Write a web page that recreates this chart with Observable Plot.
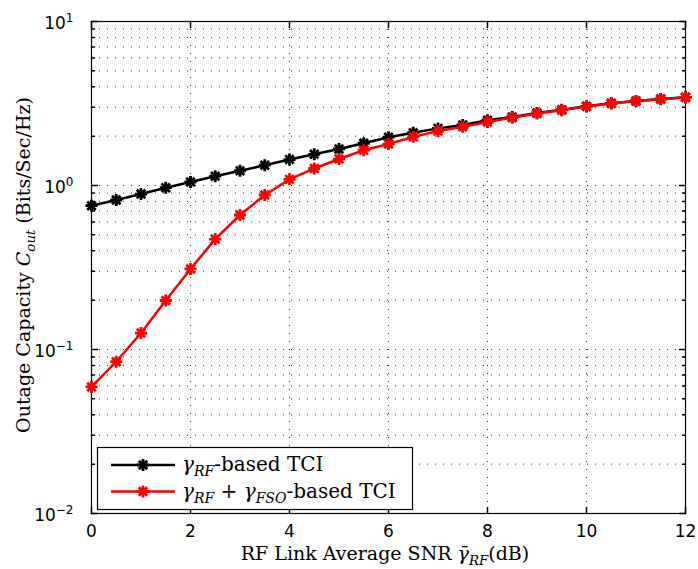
<!DOCTYPE html>
<html><head><meta charset="utf-8">
<script src="https://cdn.jsdelivr.net/npm/d3@7"></script>
<script src="https://cdn.jsdelivr.net/npm/@observablehq/plot@0.6"></script>
<style>body{margin:0;background:#fff}#chart{width:698px;height:569px}</style>
</head><body><div id="chart"></div>
<script>
// ---- data ----
const snr = [0,0.5,1,1.5,2,2.5,3,3.5,4,4.5,5,5.5,6,6.5,7,7.5,8,8.5,9,9.5,10,10.5,11,11.5,12];
const capacityRF = [0.753,0.816,0.887,0.97,1.05,1.14,1.23,1.33,1.44,1.55,1.67,1.81,1.97,2.10,2.23,2.34,2.50,2.62,2.77,2.90,3.04,3.17,3.28,3.37,3.45];
const capacityRFFSO = [0.0591,0.0843,0.126,0.199,0.310,0.471,0.661,0.875,1.09,1.27,1.45,1.64,1.79,1.98,2.15,2.28,2.44,2.59,2.75,2.88,3.03,3.16,3.28,3.36,3.44];
const seriesColors = ["#000000", "#ff0000"];
const xTicks = [0,2,4,6,8,10,12];
const yTicks = [0.01,0.1,1,10];
const yTickExponents = ["\u22122","\u22121","0","1"];
const xGrid = [2,4,6,8,10];
const yMinor = d3.range(-2,1).flatMap(e => d3.range(2,10).map(m => m * 10 ** e));
const yGrid = yMinor.concat([0.1, 1]);

const rf = snr.map((x,i) => ({x, y: capacityRF[i]}));
const fso = snr.map((x,i) => ({x, y: capacityRFFSO[i]}));

// Matlab '*' marker
const star = {draw(ctx, size){
  const r = Math.sqrt(size/Math.PI), d = r*Math.SQRT1_2;
  ctx.moveTo(-r,0); ctx.lineTo(r,0);
  ctx.moveTo(0,-r); ctx.lineTo(0,r);
  ctx.moveTo(-d,-d); ctx.lineTo(d,d);
  ctx.moveTo(-d,d); ctx.lineTo(d,-d);
}};
const tickShape = {draw(ctx, l){ ctx.moveTo(0,0); ctx.lineTo(0,-l); }};
const markR = 6, markW = 2.8;

const serif = "DejaVu Serif";
const plot = Plot.plot({
  width: 698, height: 569,
  marginLeft: 91, marginRight: 13, marginTop: 21, marginBottom: 56,
  style: {fontFamily: "DejaVu Sans", fontSize: "17px", background: "#fff", overflow: "visible"},
  x: {domain: [0,12]},
  y: {type: "log", domain: [0.01, 10]},
  marks: [
    Plot.ruleY(yGrid, {stroke: "#333", strokeWidth: 1, strokeDasharray: "1,7"}),
    Plot.ruleX(xGrid, {stroke: "#333", strokeWidth: 1, strokeDasharray: "1,7"}),
    Plot.vector(xTicks, {x: d => d, y: () => 0.01, length: 6, anchor: "start", rotate: 0, shape: tickShape, stroke: "black"}),
    Plot.vector(xTicks, {x: d => d, y: () => 10, length: 6, anchor: "start", rotate: 180, shape: tickShape, stroke: "black"}),
    Plot.vector(yTicks, {x: () => 0, y: d => d, length: 6, anchor: "start", rotate: 90, shape: tickShape, stroke: "black"}),
    Plot.vector(yTicks, {x: () => 12, y: d => d, length: 6, anchor: "start", rotate: -90, shape: tickShape, stroke: "black"}),
    Plot.vector(yMinor, {x: () => 0, y: d => d, length: 3, anchor: "start", rotate: 90, shape: tickShape, stroke: "black"}),
    Plot.vector(yMinor, {x: () => 12, y: d => d, length: 3, anchor: "start", rotate: -90, shape: tickShape, stroke: "black"}),
    Plot.frame({stroke: "black", strokeWidth: 1.2}),
    Plot.line(rf, {x: "x", y: "y", stroke: seriesColors[0], strokeWidth: 2.5}),
    Plot.dot(rf, {x: "x", y: "y", symbol: star, r: markR, stroke: seriesColors[0], strokeWidth: markW, fill: "none"}),
    Plot.line(fso, {x: "x", y: "y", stroke: seriesColors[1], strokeWidth: 2.5}),
    Plot.dot(fso, {x: "x", y: "y", symbol: star, r: markR, stroke: seriesColors[1], strokeWidth: markW, fill: "none"}),
    Plot.axisX({ticks: xTicks, tickSize: 0, tickPadding: 11, label: null}),
    Plot.axisY({ticks: yTicks, tickSize: 0, tickPadding: 18, tickFormat: () => "10", label: null, dy: 2})
  ]
});
document.getElementById("chart").appendChild(plot);

const svg = d3.select(plot);
// superscript exponents on y tick labels
svg.selectAll('g[aria-label="y-axis tick label"] text').each(function(d, i){
  const t = d3.select(this);
  t.text(null);
  t.append("tspan").text("10");
  t.append("tspan").attr("dy", "-0.6em").attr("font-size", "12px").text(yTickExponents[i]);
});

function mathText(sel, parts, size){
  parts.forEach(p => {
    const ts = sel.append("tspan").text(p.t);
    if (p.it) ts.attr("font-style", "italic");
    if (p.sub) { ts.attr("font-size", (size*0.7) + "px").attr("dy", size*0.25); }
    if (p.after) ts.attr("dy", -size*0.25);
  });
}

const fs = 19;
// x-axis label
const xl = svg.append("text").attr("x", 385).attr("y", 560).attr("text-anchor", "middle")
  .attr("font-family", serif).attr("font-size", fs + "px").attr("fill", "black");
mathText(xl, [{t: "RF Link Average SNR "}, {t: "\u03B3\u0304", it: true}, {t: "RF", it: true, sub: true}, {t: "(dB)", after: true}], fs);

// y-axis label
const yl = svg.append("text").attr("transform", "translate(30,265) rotate(-90)").attr("text-anchor", "middle")
  .attr("font-family", serif).attr("font-size", fs + "px").attr("fill", "black");
mathText(yl, [{t: "Outage Capacity "}, {t: "C", it: true}, {t: "out", it: true, sub: true}, {t: " (Bits/Sec/Hz)", after: true}], fs);

// legend
const lg = svg.append("g");
lg.append("rect").attr("x", 97.5).attr("y", 447.5).attr("width", 315).attr("height", 62)
  .attr("fill", "white").attr("stroke", "black").attr("stroke-width", 1.2);
const legendRows = [
  {color: seriesColors[0], parts: [{t: "\u03B3", it: true}, {t: "RF", it: true, sub: true}, {t: "-based TCI", after: true}]},
  {color: seriesColors[1], parts: [{t: "\u03B3", it: true}, {t: "RF", it: true, sub: true}, {t: " + ", after: true}, {t: "\u03B3", it: true}, {t: "FSO", it: true, sub: true}, {t: "-based TCI", after: true}]}
];
legendRows.forEach((r, i) => {
  const y = 465 + i * 26.5;
  lg.append("line").attr("x1", 111).attr("x2", 175).attr("y1", y).attr("y2", y)
    .attr("stroke", r.color).attr("stroke-width", 2.5);
  const p = d3.path(); star.draw(p, Math.PI * markR * markR);
  lg.append("path").attr("d", p.toString()).attr("transform", `translate(143,${y})`)
    .attr("stroke", r.color).attr("stroke-width", markW).attr("fill", "none");
  const t = lg.append("text").attr("x", 182).attr("y", y + 6).attr("text-anchor", "start")
    .attr("font-family", serif).attr("font-size", "20px").attr("fill", "black");
  mathText(t, r.parts, 20);
});
</script></body></html>
